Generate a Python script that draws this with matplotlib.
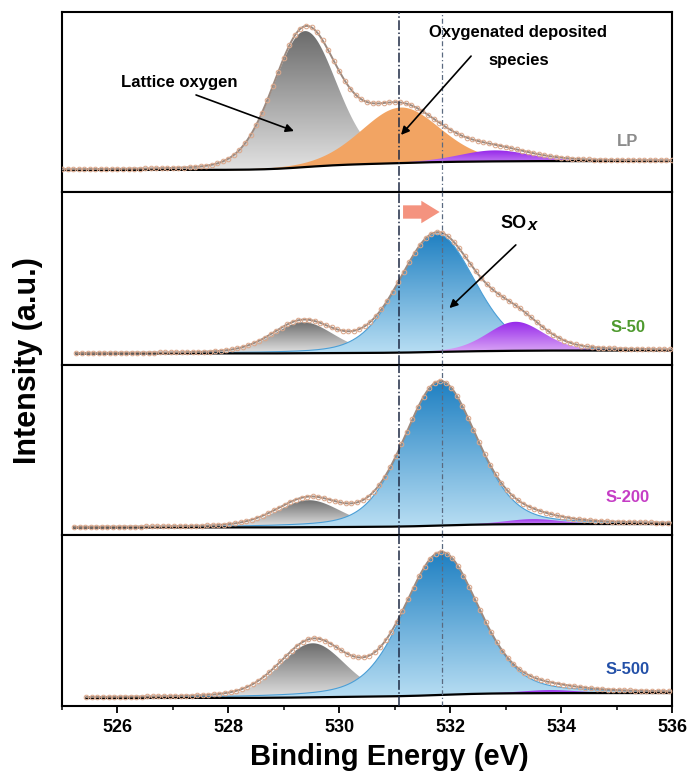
import numpy as np
import matplotlib.pyplot as plt
from matplotlib.colors import LinearSegmentedColormap
from matplotlib.ticker import MultipleLocator

plt.rcParams['font.family'] = ['Liberation Sans', 'DejaVu Sans']
plt.rcParams['font.weight'] = 'bold'

# O 1s fits; heights in panel units (about one pixel each)
samples = ['LP', 'S-50', 'S-200', 'S-500']
label_colors = ['#8c8c8c', '#4e9a2e', '#c53dc5', '#2350a8']
x_start = [525.0, 525.26, 525.22, 525.44]
bg_low = [22, 11.5, 7.5, 8]
bg_high = [31, 14.5, 11, 13]

lat_center = [529.38, 529.35, 529.45, 529.52]
lat_height = [136, 31, 27, 54]
lat_fwhm = [1.35, 1.3, 1.35, 1.4]
lat_lfrac = [0.15, 0.2, 0.2, 0.2]

dep_center = [531.1, 0, 0, 0]
dep_height = [56, 0, 0, 0]
dep_fwhm = [1.7, 0, 0, 0]
dep_lfrac = [0.2, 0, 0, 0]

sox_center = [0, 531.76, 531.82, 531.84]
sox_height = [0, 118, 144, 142]
sox_fwhm = [0, 1.6, 1.55, 1.6]
sox_lfrac = [0, 0.2, 0.25, 0.3]

oh_center = [532.8, 533.18, 533.5, 533.8]
oh_height = [11, 29, 5, 3]
oh_fwhm = [1.5, 1.2, 1.2, 1.2]
oh_lfrac = [0.2, 0.2, 0.2, 0.2]

ref_lines = [531.08, 531.86]


def pv(x, c, h, w, m):
    g = np.exp(-4 * np.log(2) * (x - c) ** 2 / w ** 2)
    lo = 1 / (1 + 4 * (x - c) ** 2 / w ** 2)
    return h * ((1 - m) * g + m * lo)


def grad_fill(ax, x, y0, y1, c_top, c_bot, z, edge=None):
    poly = ax.fill_between(x, y0, y1, color='none', lw=0)
    cmap = LinearSegmentedColormap.from_list('g', [c_bot, c_top])
    grad = np.linspace(0, 1, 256).reshape(-1, 1)
    im = ax.imshow(grad, cmap=cmap, aspect='auto', origin='lower',
                   extent=(x[0], x[-1], y0.min(), y1.max()), zorder=z)
    im.set_clip_path(poly.get_paths()[0], transform=ax.transData)
    if edge:
        ax.plot(x, y1, color=edge, lw=0.8, zorder=z + 0.1)


fig = plt.figure(figsize=(6.9, 7.76), dpi=100)
tops = [12, 192, 365, 535]
bots = [192, 365, 535, 706]
axes = []

for i in range(4):
    ax = fig.add_axes([62 / 690, 1 - bots[i] / 776, 610 / 690, (bots[i] - tops[i]) / 776])
    axes.append(ax)
    x = np.arange(x_start[i], 536.001, 0.01)
    lat = pv(x, lat_center[i], lat_height[i], lat_fwhm[i], lat_lfrac[i])
    dep = pv(x, dep_center[i], dep_height[i], dep_fwhm[i], dep_lfrac[i]) if dep_height[i] else 0 * x
    sox = pv(x, sox_center[i], sox_height[i], sox_fwhm[i], sox_lfrac[i]) if sox_height[i] else 0 * x
    oh = pv(x, oh_center[i], oh_height[i], oh_fwhm[i], oh_lfrac[i])
    tot = lat + dep + sox + oh
    # shirley-type step background
    bg = bg_low[i] + (bg_high[i] - bg_low[i]) * np.cumsum(tot) / tot.sum()

    grad_fill(ax, x, bg, bg + lat, '#6c6c6c', '#e2e2e2', 2)
    if dep_height[i]:
        ax.fill_between(x, bg, bg + dep, color='#f2a463', lw=0, zorder=3)
    if sox_height[i]:
        grad_fill(ax, x, bg, bg + sox, '#1f80c2', '#b8def3', 3, edge='#4a9ed6')
    grad_fill(ax, x, bg, bg + oh, '#9526ea', '#dcaaf6', 4)

    ax.plot(x, bg, color='black', lw=1.6, zorder=5)
    ax.plot(x, bg + tot, color='#9c8a80', lw=1.4, zorder=6)
    step = 10
    ax.plot(x[::step], (bg + tot)[::step], 'o', ms=3.3, mfc='none', mec='#dba88c', mew=0.75, zorder=7)

    ax.axvline(ref_lines[0], color='#1e2a44', lw=1.1, ls='-.', zorder=8)
    ax.axvline(ref_lines[1], color='#5a6a80', lw=0.9, ls=(0, (4, 2, 1, 2)), zorder=8)

    ax.text(535.2, 37 if i else 50, samples[i], color=label_colors[i], fontsize=12,
            ha='center', va='center', zorder=9)

    ax.set_xlim(525, 536)
    ax.set_ylim(0, bots[i] - tops[i])
    for s in ax.spines.values():
        s.set_linewidth(1.5)
    ax.tick_params(left=False, labelleft=False)
    if i < 3:
        ax.tick_params(bottom=False, labelbottom=False)
    else:
        ax.set_xticks(range(526, 537, 2))
        ax.xaxis.set_minor_locator(MultipleLocator(1))
        ax.tick_params(which='major', direction='out', length=5, width=1.3, labelsize=13, pad=4)
        ax.tick_params(which='minor', direction='out', length=3, width=1.1)

ax1, ax2 = axes[0], axes[1]
ax1.annotate('', xy=(529.23, 60), xytext=(527.37, 98),
             arrowprops=dict(arrowstyle='-|>', color='black', lw=1.2, mutation_scale=12), zorder=9)
ax1.text(527.12, 110, 'Lattice oxygen', fontsize=12, ha='center', va='center')
ax1.annotate('', xy=(531.08, 55), xytext=(532.41, 138),
             arrowprops=dict(arrowstyle='-|>', color='black', lw=1.2, mutation_scale=12), zorder=9)
ax1.text(533.23, 160, 'Oxygenated deposited', fontsize=12, ha='center', va='center')
ax1.text(533.23, 132, 'species', fontsize=12, ha='center', va='center')

ax2.annotate('', xy=(531.86, 153), xytext=(531.1, 153),
             arrowprops=dict(arrowstyle='simple,head_length=1.1,head_width=1.35,tail_width=0.8',
                             fc='#f4937f', ec='none', mutation_scale=12), zorder=9)
ax2.annotate('', xy=(531.95, 55), xytext=(533.22, 122),
             arrowprops=dict(arrowstyle='-|>', color='black', lw=1.2, mutation_scale=12), zorder=9)
ax2.text(533.38, 142, 'SO', fontsize=13, ha='right', va='center')
ax2.text(533.39, 140, 'x', fontsize=12, style='italic', ha='left', va='center')

fig.text(28.5 / 690, 1 - 361 / 776, 'Intensity (a.u.)', rotation=90, fontsize=22,
         ha='center', va='center')
fig.text(389 / 690, 1 - 757 / 776, 'Binding Energy (eV)', fontsize=21,
         ha='center', va='center')

fig.savefig('out.png', dpi=100)
